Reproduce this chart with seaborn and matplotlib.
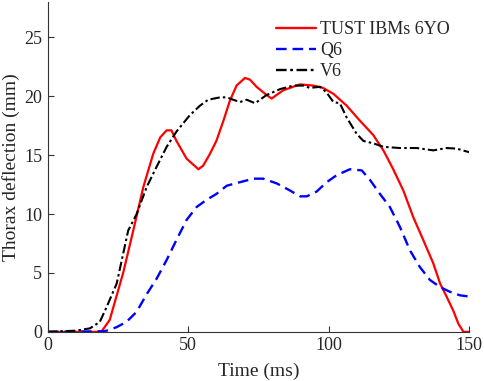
import numpy as np
import pandas as pd
import matplotlib
matplotlib.use("Agg")
import matplotlib.pyplot as plt
import seaborn as sns

# Thorax deflection curves
t_tust = [0, 10, 19, 22, 26.8, 30.4, 34, 37.5, 40, 42.3, 44, 45.8, 49.4, 53.6, 55.3,
          57.7, 60, 62.5, 64.8, 67.2, 70.2, 72, 74.3, 77.9, 79.7, 83.8, 89.8, 94.5,
          98, 101.7, 106.4, 111.2, 115.9, 119.5, 123, 126.6, 130.2, 133.7, 137.3,
          139.7, 142, 144.4, 146.2, 148, 150]
v_tust = [0, 0, 0, 1.0, 5.0, 8.6, 12.3, 15.1, 16.5, 17.1, 17.1, 16.2, 14.7, 13.8, 14.1,
          15.1, 16.2, 17.9, 19.6, 20.9, 21.55, 21.4, 20.8, 20.1, 19.8, 20.5, 21.0, 20.9,
          20.7, 20.2, 19.2, 17.9, 16.7, 15.4, 13.8, 12.0, 9.7, 7.8, 5.8,
          4.1, 3.0, 1.8, 0.7, 0, 0]

t_q6 = [0, 10, 20, 20.9, 24.5, 28, 31.6, 35.2, 38.7, 42.3, 45.8, 49.4, 53, 56.5, 60,
        63.7, 68.4, 73.2, 76.7, 81.5, 86.2, 89.8, 92.2, 95.7, 99.3, 102.9, 107.6,
        111.8, 114.7, 118.3, 121.8, 125.4, 129, 132.5, 136.1, 139.7, 143.2, 146.8, 150]
v_q6 = [0, 0.02, 0.05, 0.1, 0.4, 0.85, 1.7, 3.2, 4.5, 6.1, 7.8, 9.5, 10.6, 11.2, 11.7,
        12.4, 12.7, 13.0, 13.0, 12.6, 12.0, 11.5, 11.5, 11.9, 12.7, 13.3, 13.8,
        13.7, 12.9, 11.7, 10.6, 8.9, 6.9, 5.5, 4.4, 3.8, 3.4, 3.1, 3.0]

t_v6 = [0, 10, 15, 18.5, 20.9, 24.5, 28.6, 31.6, 35.2, 38.7, 42.3, 45.8, 50.6, 54.2,
        57.1, 61.3, 63.7, 66, 68.4, 70.8, 73.8, 77.9, 82.7, 87.4, 91, 93.3, 97, 99.3,
        101.7, 104, 106.4, 110, 112.4, 115.9, 119.5, 125.4, 131.4, 137.3, 142, 145.6, 150]
v_v6 = [0, 0.1, 0.3, 0.85, 2.1, 4.1, 8.6, 10.0, 12.3, 14.0, 15.7, 17.0, 18.4, 19.2,
        19.7, 19.9, 19.9, 19.7, 19.5, 19.7, 19.4, 20.1, 20.6, 20.9, 20.9, 20.7, 20.8, 20.3,
        19.5, 19.4, 18.2, 16.8, 16.2, 16.0, 15.7, 15.6, 15.6, 15.4, 15.6, 15.55, 15.25]

sns.set_style("ticks")
plt.rcParams["font.family"] = ["Liberation Serif", "DejaVu Serif"]
plt.rcParams["xtick.direction"] = "in"
plt.rcParams["ytick.direction"] = "in"

q6_dash = [4.5, 2.5]
v6_dash = [4.5, 1.5, 1.2, 1.5]

fig = plt.figure(figsize=(4.84, 3.81), dpi=100)
ax = fig.add_axes([0.099, 0.129, 0.870, 0.866])

sns.lineplot(x=t_tust, y=v_tust, ax=ax, color="#ff0000", lw=1.6,
             label="TUST IBMs 6YO", estimator=None, sort=False)
sns.lineplot(x=t_q6, y=v_q6, ax=ax, color="#0000ff", lw=1.7,
             label="Q6", estimator=None, sort=False)
sns.lineplot(x=t_v6, y=v_v6, ax=ax, color="#000000", lw=1.5,
             label="V6", estimator=None, sort=False)
ax.lines[1].set_dashes(q6_dash)
ax.lines[2].set_dashes(v6_dash)

ax.set_xlim(0, 150)
ax.set_ylim(0, 28)
ax.set_xticks([0, 50, 100, 150])
ax.set_yticks([0, 5, 10, 15, 20, 25])
ax.tick_params(labelsize=13, length=4, color="#333333", pad=4)
ax.set_xlabel("Time (ms)", fontsize=14, labelpad=6)
ax.set_ylabel("Thorax deflection (mm)", fontsize=14, labelpad=3)
for s in ["top", "right"]:
    ax.spines[s].set_visible(False)
for s in ["left", "bottom"]:
    ax.spines[s].set_color("#333333")
    ax.spines[s].set_linewidth(0.8)

leg = ax.legend(loc="upper left", bbox_to_anchor=(0.5416, 0.941), frameon=False,
                fontsize=13, handlelength=2.2, handletextpad=0.25,
                labelspacing=0.21, borderaxespad=0, borderpad=0)
for h in leg.get_lines():
    h.set_linewidth(1.7)
leg.get_lines()[1].set_dashes(q6_dash)
leg.get_lines()[2].set_dashes(v6_dash)

fig.savefig("out.png", dpi=100)
